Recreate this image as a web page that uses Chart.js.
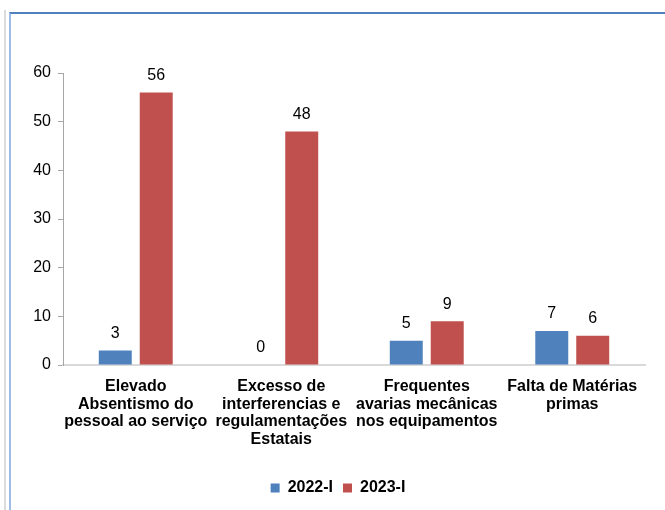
<!DOCTYPE html>
<html lang="pt">
<head>
<meta charset="utf-8">
<title>causas</title>
<style>
  body { margin: 0; background: #fff; }
  #wrap { position: relative; width: 665px; height: 510px; overflow: hidden; }
  #gray { position: absolute; left: 4px; top: 10px; width: 2px; height: 510px; background: #dcdcdc; }
  #frame { position: absolute; left: 9px; top: 12px; width: 700px; height: 600px;
           border-top: 2px solid #4f81bd; border-left: 2px solid #9dbde6; }
  canvas { position: absolute; left: 0; top: 0; }
</style>
</head>
<body>
<div id="wrap">
  <div id="gray"></div>
  <div id="frame"></div>
  <canvas id="myChart" width="665" height="510"></canvas>
</div>

<script src="https://cdn.jsdelivr.net/npm/chart.js"></script>
<script>
  const categorias = [
    ['Elevado', 'Absentismo do', 'pessoal ao serviço'],
    ['Excesso de', 'interferencias e', 'regulamentações', 'Estatais'],
    ['Frequentes', 'avarias mecânicas', 'nos equipamentos'],
    ['Falta de Matérias', 'primas']
  ];
  const serie2022 = [3, 0, 5, 7];
  const serie2023 = [56, 48, 9, 6];
  const nomes = ['2022-I', '2023-I'];
  const cores = ['#4f81bd', '#c0504d'];

  const FONT = '"Liberation Sans", Arial, sans-serif';

  // values written above each bar
  const rotulos = {
    id: 'rotulos',
    afterDatasetsDraw(chart) {
      const c = chart.ctx;
      c.save();
      c.font = '16px ' + FONT;
      c.fillStyle = '#000';
      c.textAlign = 'center';
      c.textBaseline = 'bottom';
      chart.data.datasets.forEach((ds, i) => {
        chart.getDatasetMeta(i).data.forEach((el, j) => {
          c.fillText(String(ds.data[j]), el.x, el.y - 9);
        });
      });
      c.restore();
    }
  };

  const ctx = document.getElementById('myChart');
  new Chart(ctx, {
    type: 'bar',
    data: {
      labels: categorias,
      datasets: [
        { label: nomes[0], data: serie2022, backgroundColor: cores[0] },
        { label: nomes[1], data: serie2023, backgroundColor: cores[1] }
      ]
    },
    plugins: [rotulos],
    options: {
      responsive: false,
      animation: false,
      layout: { padding: { left: 31, right: 20, top: 73, bottom: 4 } },
      datasets: { bar: { categoryPercentage: 0.563, barPercentage: 0.805 } },
      plugins: {
        tooltip: { enabled: false },
        legend: {
          position: 'bottom',
          labels: {
            font: { family: FONT, size: 16, weight: 'bold' },
            color: '#000',
            boxWidth: 9, boxHeight: 9,
            padding: 10
          }
        }
      },
      scales: {
        x: {
          grid: { display: false },
          border: { color: '#d9d9d9', width: 2 },
          ticks: {
            font: { family: FONT, size: 16, weight: 'bold', lineHeight: 1.1 },
            color: '#000', padding: 5, maxRotation: 0, autoSkip: false
          },
          afterFit: (s) => { s.height = 105; }
        },
        y: {
          min: 0, max: 60,
          grid: { drawOnChartArea: false, drawTicks: true, tickLength: 5, color: '#a6a6a6' },
          border: { color: '#a6a6a6', width: 1 },
          ticks: { stepSize: 10, font: { family: FONT, size: 16 }, color: '#000', padding: 7 },
          afterFit: (s) => { s.width = 32; }
        }
      }
    }
  });
</script>
</body>
</html>
